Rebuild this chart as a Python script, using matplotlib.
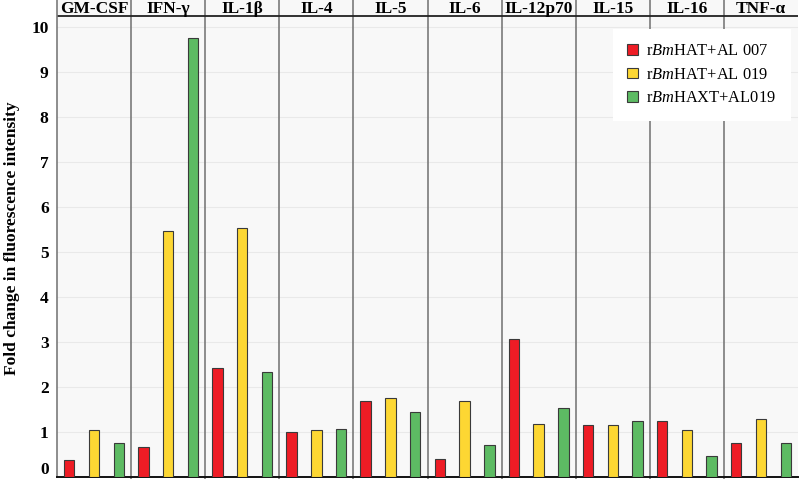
import matplotlib
matplotlib.use("Agg")
import matplotlib.pyplot as plt
import matplotlib.transforms as mtransforms
import numpy as np

cytokines = ["GM-CSF", "IFN-γ", "IL-1β", "IL-4", "IL-5", "IL-6", "IL-12p70", "IL-15", "IL-16", "TNF-α"]
series_names = [r"r$\mathit{Bm}$HAT+AL 007", r"r$\mathit{Bm}$HAT+AL 019", r"r$\mathit{Bm}$HAXT+AL019"]
hat_al007 = [0.37, 0.67, 2.42, 1.01, 1.70, 0.41, 3.06, 1.16, 1.24, 0.76]
hat_al019 = [1.04, 5.46, 5.53, 1.05, 1.75, 1.70, 1.18, 1.16, 1.05, 1.29]
haxt_al019 = [0.76, 9.76, 2.33, 1.07, 1.44, 0.71, 1.53, 1.25, 0.47, 0.76]
yticks = [0, 1, 2, 3, 4, 5, 6, 7, 8, 9, 10]

colors = ["#ee1c25", "#fdd733", "#5dbb63"]

plt.rcParams["font.family"] = ["Liberation Serif", "DejaVu Serif"]
plt.rcParams["mathtext.fontset"] = "custom"
plt.rcParams["mathtext.rm"] = "Liberation Serif"
plt.rcParams["mathtext.it"] = "Liberation Serif:italic"

fig = plt.figure(figsize=(8, 4.79), dpi=100)
ax = fig.add_axes([57/800, 2/479, 741/800, 477/479])
ax.set_facecolor("#f8f8f8")

n = len(cytokines)
x = np.arange(n)
offsets = [0.165, 0.5, 0.835]
width = 0.14
for vals, off, c, name in zip([hat_al007, hat_al019, haxt_al019], offsets, colors, series_names):
    ax.bar(x + off, vals, width=width, color=c, edgecolor="#3a3a3a", linewidth=0.8,
           label=name, zorder=3)

ymax = 10.6
header_y = 10.245
ax.set_xlim(0, n)
ax.set_ylim(0, ymax)

# grid
for t in yticks:
    ax.axhline(t, color="#e9e9e9", lw=0.8, zorder=1)

# dividers
for i in range(1, n):
    ax.vlines(i, -0.06, ymax, color="#7a7a7a", lw=1.2, zorder=2, clip_on=False)
ax.axhline(header_y, color="#222222", lw=1.3, zorder=2)

# header labels
for i, name in enumerate(cytokines):
    ax.text(i + 0.5, (header_y + ymax) / 2 - 0.02, name, ha="center", va="center",
            fontsize=12.5, fontweight="bold", zorder=4)

for s in ["top", "right"]:
    ax.spines[s].set_visible(False)
ax.spines["left"].set_color("#7a7a7a")
ax.spines["left"].set_linewidth(1.2)
ax.spines["bottom"].set_color("#111111")
ax.spines["bottom"].set_linewidth(1.4)

ax.set_xticks([])
ax.set_yticks(yticks)
ax.set_yticklabels([str(t) for t in yticks], fontsize=12.5, fontweight="bold")
ax.tick_params(axis="y", length=0, pad=6)
lab0 = ax.get_yticklabels()[0]
lab0.set_transform(lab0.get_transform() + mtransforms.ScaledTranslation(0, 9/100, fig.dpi_scale_trans))

ax.set_ylabel("Fold change in fluorescence intensity", fontsize=12.5, fontweight="bold")
ax.yaxis.set_label_coords(-0.05, 0.5)

leg = ax.legend(loc="upper right", bbox_to_anchor=(0.99, 0.94), fontsize=11.8,
                frameon=True, fancybox=False, edgecolor="white", framealpha=1,
                handlelength=0.65, handleheight=0.65, handletextpad=0.5,
                labelspacing=0.45, borderpad=0.9, borderaxespad=0)
leg.set_zorder(5)
leg.get_frame().set_linewidth(0)

fig.savefig("out.png", dpi=100, facecolor="white")
